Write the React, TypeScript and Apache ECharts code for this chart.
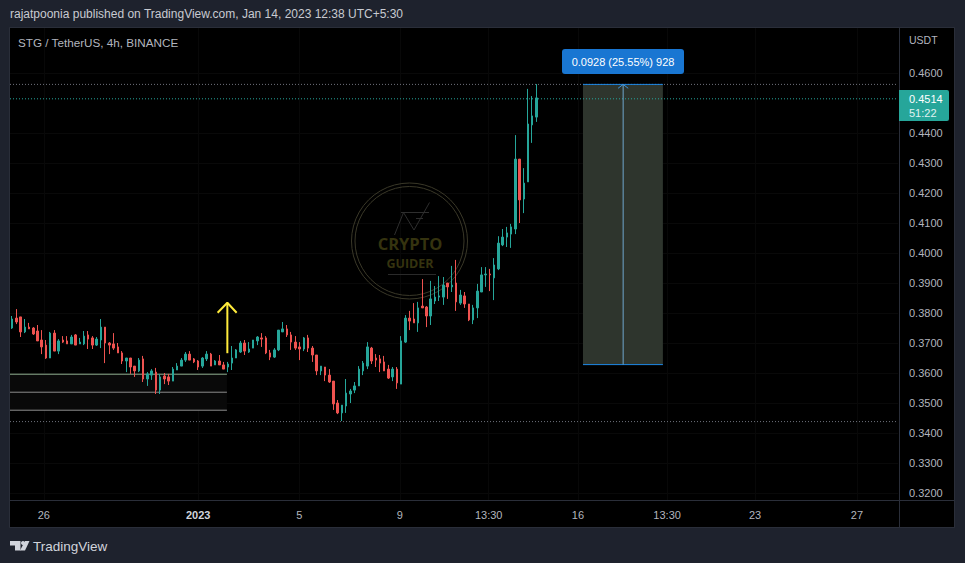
import React, { useEffect, useRef } from "react";
import * as echarts from "echarts";

const tops = [
.3780,.3783,.3787,.3753,.3753,.3750,.3740,.3710,.3693,.3733,
.3733,.3707,.3710,.3707,.3720,.3727,.3703,.3723,.3727,.3717,
.3713,.3753,.3753,.3700,.3697,.3687,.3667,.3650,.3650,.3623,
.3643,.3647,.3597,.3607,.3603,.3587,.3590,.3587,.3613,.3623,
.3643,.3663,.3663,.3647,.3640,.3650,.3663,.3663,.3640,.3640,
.3627,.3630,.3650,.3677,.3700,.3700,.3680,.3710,.3720,.3717,
.3717,.3667,.3677,.3743,.3747,.3747,.3727,.3703,.3687,.3717,
.3717,.3683,.3660,.3623,.3620,.3593,.3573,.3500,.3493,.3533,
.3540,.3557,.3613,.3633,.3687,.3683,.3650,.3647,.3637,.3613,
.3613,.3613,.3707,.3783,.3783,.3780,.3817,.3823,.3820,.3847,
.3853,.3857,.3893,.3900,.3893,.3900,.3860,.3857,.3830,.3817,
.3873,.3927,.3930,.3930,.3960,.4033,.4053,.4067,.4087,.4313,
.4313,.4233,.4430,.4457,.4517];
const bottoms = [
.3750,.3770,.3737,.3737,.3747,.3730,.3707,.3687,.3650,.3650,
.3673,.3673,.3703,.3697,.3697,.3693,.3697,.3697,.3713,.3693,
.3693,.3710,.3700,.3693,.3683,.3667,.3640,.3640,.3620,.3607,
.3607,.3580,.3580,.3593,.3543,.3543,.3580,.3573,.3573,.3610,
.3623,.3643,.3643,.3637,.3620,.3623,.3647,.3623,.3627,.3627,
.3613,.3620,.3633,.3650,.3670,.3673,.3670,.3683,.3707,.3713,
.3667,.3653,.3653,.3677,.3737,.3727,.3703,.3683,.3680,.3680,
.3683,.3660,.3607,.3607,.3593,.3570,.3497,.3467,.3467,.3490,
.3530,.3543,.3557,.3607,.3623,.3640,.3643,.3633,.3607,.3583,
.3587,.3567,.3563,.3703,.3773,.3767,.3767,.3817,.3790,.3790,
.3840,.3853,.3853,.3887,.3887,.3837,.3833,.3830,.3777,.3777,
.3817,.3870,.3927,.3927,.3917,.3947,.4027,.4053,.4063,.4080,
.4177,.4180,.4237,.4427,.4453];
const highs = [
.3790,.3813,.3787,.3780,.3767,.3753,.3760,.3743,.3710,.3737,
.3743,.3713,.3723,.3723,.3727,.3730,.3717,.3740,.3740,.3723,
.3720,.3780,.3753,.3703,.3733,.3700,.3673,.3650,.3650,.3623,
.3650,.3657,.3603,.3613,.3617,.3597,.3600,.3597,.3620,.3633,
.3650,.3670,.3673,.3650,.3643,.3653,.3673,.3667,.3643,.3660,
.3637,.3637,.3690,.3680,.3707,.3710,.3703,.3710,.3723,.3733,
.3723,.3677,.3683,.3743,.3770,.3760,.3737,.3723,.3703,.3720,
.3727,.3690,.3660,.3623,.3620,.3613,.3573,.3510,.3493,.3580,
.3547,.3570,.3623,.3640,.3703,.3687,.3663,.3660,.3657,.3627,
.3620,.3620,.3723,.3793,.3807,.3833,.3837,.3913,.3823,.3907,
.3890,.3923,.3920,.3900,.3957,.3977,.3877,.3870,.3830,.3827,
.3897,.3953,.3953,.3947,.3983,.4056,.4080,.4087,.4097,.4393,
.4313,.4283,.4547,.4523,.4563];
const lows = [
.3747,.3763,.3720,.3733,.3747,.3727,.3707,.3663,.3647,.3650,
.3673,.3663,.3700,.3697,.3697,.3693,.3697,.3693,.3680,.3680,
.3690,.3683,.3633,.3663,.3677,.3667,.3630,.3603,.3597,.3587,
.3603,.3570,.3557,.3577,.3530,.3530,.3563,.3560,.3573,.3610,
.3623,.3637,.3643,.3633,.3610,.3617,.3640,.3623,.3627,.3627,
.3613,.3603,.3610,.3650,.3667,.3660,.3667,.3683,.3693,.3687,
.3663,.3643,.3650,.3673,.3737,.3720,.3677,.3677,.3643,.3673,
.3670,.3637,.3593,.3593,.3573,.3567,.3477,.3463,.3440,.3467,
.3500,.3533,.3557,.3593,.3613,.3630,.3620,.3603,.3607,.3580,
.3573,.3547,.3563,.3700,.3743,.3767,.3737,.3817,.3753,.3760,
.3830,.3840,.3827,.3847,.3870,.3807,.3827,.3817,.3773,.3763,
.3783,.3870,.3887,.3873,.3843,.3943,.4023,.4020,.4017,.4063,
.4100,.4133,.4237,.4367,.4437];
const directions =
  "GRRGRRRRRG" + "RGRRGRGGRR" + "GGRRRRRGRR" + "GRGGRGRRGG" + "GGRRRGGRGR" +
  "RGGGGRGGGR" + "RRGGGRRRRG" + "RRRGRRRRGG" + "GGGGGRRRRR" + "GRGGRRGRRG" +
  "GGGRGRGRRG" + "GGGRGGGGGG" + "RGGGG";

const priceTicks = [0.46,0.44,0.43,0.42,0.41,0.40,0.39,0.38,0.37,0.36,0.35,0.34,0.33,0.32];
const timeTickSlots = [8, 44.5, 68.4, 92.2, 113.2, 134.3, 155.4, 176.2, 200.3];
const timeTickLabels = ["26", "2023", "5", "9", "13:30", "16", "13:30", "23", "27"];

const lastPrice = 0.4514;
const highLevel = 0.4562;
const lowLevel = 0.3438;
const supportLevels = [0.3596, 0.3536, 0.3476];
const supportEndSlot = 51.3;
const arrowSlots = [49.1, 51.4, 53.6];
const arrowTipPrice = 0.3834;
const arrowWingPrice = 0.3801;
const arrowBasePrice = 0.3666;
const toolSlots = [135.5, 145, 154.4];
const toolTop = 0.4562;
const toolBottom = 0.3628;
const SLOTS = 210;

const UI = "'Liberation Sans', sans-serif";
const TEXT = "#b2b5be";
const UP = "#26a69a";
const DOWN = "#ef5350";
const FRAME = "#2a2e39";
const PAGE = "#1e222d";
const WM = "#3a3828";
const DOTS = [1, 2];

export default function App() {
  const ref = useRef<HTMLDivElement>(null);
  useEffect(() => {
    const chart = echarts.init(ref.current!, undefined, { renderer: "svg", width: 965, height: 563 });
    const candles = tops.map((t, i) =>
      directions[i] === "G" ? [bottoms[i], t, lows[i], highs[i]] : [t, bottoms[i], lows[i], highs[i]]
    );
    const lineSeries = (data: number[][], color: string, width = 1, type: any = "solid", z = 3, extra: any = {}) => ({
      type: "line",
      xAxisIndex: 1,
      yAxisIndex: 0,
      data,
      symbol: "none",
      silent: true,
      z,
      lineStyle: { color, width, type },
      ...extra,
    });
    chart.setOption({
      animation: false,
      backgroundColor: "#000",
      grid: { left: 10, top: 28, width: 888, height: 472, show: false },
      xAxis: [
        {
          type: "category",
          data: Array.from({ length: SLOTS }, (_, i) => String(i)),
          show: false,
          boundaryGap: true,
        },
        {
          type: "value",
          min: 0,
          max: SLOTS,
          position: "bottom",
          axisLine: { show: false },
          axisTick: { show: false, customValues: timeTickSlots },
          splitLine: { show: true, lineStyle: { color: "#080808", width: 1 } },
          axisLabel: {
            customValues: timeTickSlots,
            color: TEXT,
            fontFamily: UI,
            fontSize: 11,
            margin: 9,
            showMinLabel: true,
            showMaxLabel: true,
            hideOverlap: false,
            formatter: (v: number) => {
              const s = timeTickLabels[timeTickSlots.indexOf(v)] ?? "";
              return s === "2023" ? "{b|2023}" : s;
            },
            rich: { b: { color: "#d1d4dc", fontWeight: "bold", fontFamily: UI, fontSize: 11 } },
          },
        },
      ],
      yAxis: [
        {
          type: "value",
          position: "right",
          min: 0.31767,
          max: 0.475,
          axisLine: { show: false },
          axisTick: { show: false, customValues: priceTicks },
          splitLine: { show: true, lineStyle: { color: "#090909", width: 1 } },
          axisLabel: {
            customValues: priceTicks,
            color: TEXT,
            fontFamily: UI,
            fontSize: 11,
            margin: 11,
            align: "left",
            formatter: (v: number) => v.toFixed(4),
          },
        },
      ],
      series: [
        lineSeries([[0, supportLevels[0]], [supportEndSlot, supportLevels[0]]], "#8fae8f", 1, "solid", 3, {
          markArea: {
            silent: true,
            itemStyle: { color: "#090909" },
            data: [[{ coord: [0, supportLevels[0]] }, { coord: [supportEndSlot, supportLevels[2]] }]],
          },
        }),
        lineSeries([[0, supportLevels[1]], [supportEndSlot, supportLevels[1]]], "#8d8d8d"),
        lineSeries([[0, supportLevels[2]], [supportEndSlot, supportLevels[2]]], "#8d8d8d"),
        lineSeries([[0, highLevel], [SLOTS, highLevel]], "#6f727c", 1, DOTS),
        lineSeries([[0, lowLevel], [SLOTS, lowLevel]], "#6f727c", 1, DOTS),
        lineSeries([[0, lastPrice], [SLOTS, lastPrice]], UP, 1, DOTS),
        lineSeries([[toolSlots[0], toolTop], [toolSlots[2], toolTop]], "#1e88e5", 1, "solid", 3, {
          markArea: {
            silent: true,
            itemStyle: { color: "#2e352d" },
            data: [[{ coord: [toolSlots[0], toolTop] }, { coord: [toolSlots[2], toolBottom] }]],
          },
        }),
        lineSeries([[toolSlots[0], toolBottom], [toolSlots[2], toolBottom]], "#1e88e5"),
        lineSeries([[toolSlots[1], toolBottom], [toolSlots[1], toolTop]], "#6fa5cc"),
        lineSeries(
          [[toolSlots[1] - 1.2, toolTop - 0.0013], [toolSlots[1], toolTop], [toolSlots[1] + 1.2, toolTop - 0.0013]],
          "#3f95dc"
        ),
        lineSeries([[arrowSlots[1], arrowBasePrice], [arrowSlots[1], arrowTipPrice]], "#ffeb3b", 2),
        lineSeries(
          [[arrowSlots[0], arrowWingPrice], [arrowSlots[1], arrowTipPrice], [arrowSlots[2], arrowWingPrice]],
          "#ffeb3b", 2
        ),
        {
          type: "candlestick",
          xAxisIndex: 0,
          yAxisIndex: 0,
          data: candles,
          barWidth: 2,
          z: 5,
          silent: true,
          itemStyle: { color: UP, color0: DOWN, borderColor: UP, borderColor0: DOWN, borderWidth: 1 },
        },
      ],
      graphic: [
        // page surround
        { type: "rect", shape: { x: 0, y: 0, width: 965, height: 27 }, style: { fill: PAGE }, z: 0 },
        { type: "rect", shape: { x: 0, y: 527, width: 965, height: 36 }, style: { fill: PAGE }, z: 0 },
        { type: "rect", shape: { x: 0, y: 0, width: 10, height: 563 }, style: { fill: PAGE }, z: 0 },
        { type: "rect", shape: { x: 954, y: 0, width: 11, height: 563 }, style: { fill: PAGE }, z: 0 },
        // frame
        { type: "rect", shape: { x: 9.5, y: 27.5, width: 945, height: 500 }, style: { fill: "none", stroke: FRAME, lineWidth: 1 }, z: 2 },
        { type: "line", shape: { x1: 899.5, y1: 28, x2: 899.5, y2: 527 }, style: { stroke: FRAME, lineWidth: 1 }, z: 2 },
        { type: "line", shape: { x1: 10, y1: 500.5, x2: 954, y2: 500.5 }, style: { stroke: FRAME, lineWidth: 1 }, z: 2 },
        // watermark
        { type: "circle", shape: { cx: 409.5, cy: 241, r: 58 }, style: { fill: "none", stroke: WM, lineWidth: 1 }, z: 1 },
        { type: "circle", shape: { cx: 409.5, cy: 241, r: 54.5 }, style: { fill: "none", stroke: WM, lineWidth: 1 }, z: 1 },
        { type: "polyline", shape: { points: [[394.5, 235], [403.5, 212.5], [414, 230], [429.5, 202.5]] }, style: { fill: "none", stroke: "#2e2e2e", lineWidth: 1 }, z: 1 },
        { type: "line", shape: { x1: 401, y1: 212.5, x2: 429, y2: 212.5 }, style: { stroke: "#2e2e2e", lineWidth: 1 }, z: 1 },
        { type: "line", shape: { x1: 416, y1: 218.5, x2: 423, y2: 218.5 }, style: { stroke: "#2e2e2e", lineWidth: 1 }, z: 1 },
        { type: "line", shape: { x1: 388, y1: 274.5, x2: 436, y2: 274.5 }, style: { stroke: "#2a2a2a", lineWidth: 1 }, z: 1 },
        { type: "text", x: 410, y: 243.5, style: { text: "CRYPTO", fill: "#35330f", font: "bold 16.5px 'Open Sans', sans-serif", textAlign: "center", textVerticalAlign: "middle" }, z: 1 },
        { type: "text", x: 410, y: 263, style: { text: "GUIDER", fill: "#35330f", font: "bold 12.5px 'Open Sans', sans-serif", textAlign: "center", textVerticalAlign: "middle" }, z: 1 },
        // header / legend
        { type: "text", x: 10, y: 14, style: { text: "rajatpoonia published on TradingView.com, Jan 14, 2023 12:38 UTC+5:30", fill: "#c8cad1", font: `12px ${UI}`, textVerticalAlign: "middle" }, z: 6 },
        { type: "text", x: 18, y: 42, style: { text: "STG / TetherUS, 4h, BINANCE", fill: TEXT, font: `11.7px ${UI}`, textVerticalAlign: "middle" }, z: 6 },
        { type: "text", x: 909, y: 40, style: { text: "USDT", fill: TEXT, font: `10.5px ${UI}`, textVerticalAlign: "middle" }, z: 6 },
        // price tag
        { type: "rect", shape: { x: 899, y: 90, width: 50, height: 31, r: [0, 2, 2, 0] }, style: { fill: UP }, z: 6 },
        { type: "text", x: 909, y: 99, style: { text: "0.4514", fill: "#fff", font: `11px ${UI}`, textVerticalAlign: "middle" }, z: 7 },
        { type: "text", x: 909, y: 113, style: { text: "51:22", fill: "#e0f2f1", font: `11px ${UI}`, textVerticalAlign: "middle" }, z: 7 },
        // tool label
        { type: "rect", shape: { x: 562, y: 49, width: 122, height: 25, r: 3 }, style: { fill: "#1976d2" }, z: 6 },
        { type: "text", x: 623, y: 61.5, style: { text: "0.0928 (25.55%) 928", fill: "#fff", font: `11px ${UI}`, textAlign: "center", textVerticalAlign: "middle" }, z: 7 },
        // footer logo
        { type: "polygon", shape: { points: [[10, 541], [20.5, 541], [20.5, 550.5], [15, 550.5], [15, 545.5], [10, 545.5]] }, style: { fill: "#d1d4dc" }, z: 6 },
        { type: "circle", shape: { cx: 23, cy: 543, r: 2 }, style: { fill: "#d1d4dc" }, z: 6 },
        { type: "polygon", shape: { points: [[25, 541], [29.5, 541], [25, 550.5], [20, 550.5]] }, style: { fill: "#d1d4dc" }, z: 6 },
        { type: "text", x: 33, y: 546, style: { text: "TradingView", fill: "#d1d4dc", font: `13.5px ${UI}`, textVerticalAlign: "middle" }, z: 6 },
      ],
    });
    return () => chart.dispose();
  }, []);
  return <div ref={ref} style={{ position: "fixed", left: 0, top: 0, width: 965, height: 563 }} />;
}
